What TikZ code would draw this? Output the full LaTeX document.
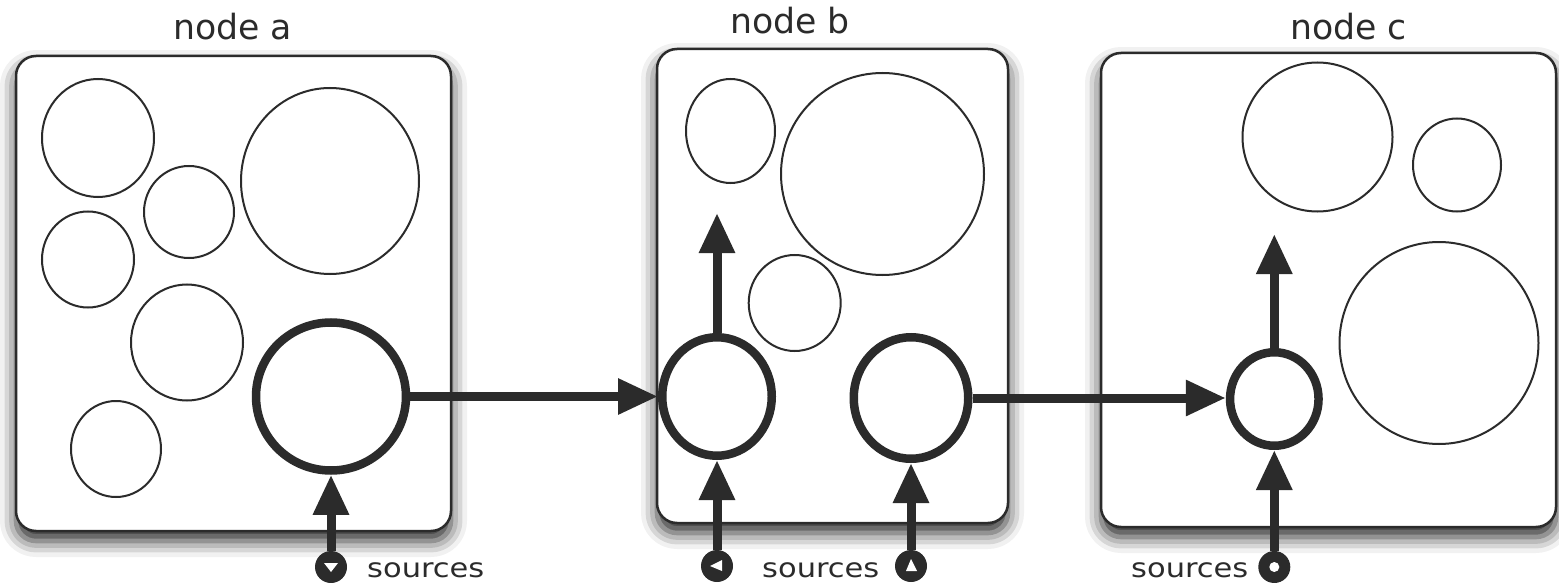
\documentclass[tikz,border=0pt]{standalone}
\usepackage{fontspec}
\setmainfont{DejaVu Sans}
\usetikzlibrary{arrows.meta,shapes.geometric,shadows.blur}
\definecolor{ink}{HTML}{2B2B2B}
\tikzset{
  host/.style={draw=ink, line width=2.5pt, fill=white, rounded corners=20pt, inner sep=0pt,
    blur shadow={shadow xshift=0pt, shadow yshift=-10pt, shadow blur radius=16pt, shadow opacity=85}},
  proc/.style={ellipse, draw=ink, line width=2pt, inner sep=0pt},
  port/.style={ellipse, draw=ink, line width=8.5pt, inner sep=0pt},
  flow/.style={draw=ink, line width=9pt, -{Triangle[length=40pt,width=34pt]}},
  source/.style={circle, fill=ink, minimum size=32pt, inner sep=0pt},
  title/.style={font=\fontsize{34.7}{40}\selectfont, text=ink, inner sep=0pt, anchor=base},
  srclabel/.style={font=\fontsize{26.5}{30}\selectfont, text=ink, inner sep=0pt, anchor=base west, xscale=1.15},
}
\begin{document}
\begin{tikzpicture}[x=1pt,y=-1pt]
\useasboundingbox (0,0) rectangle (1559,583);

% host boxes
\node[host, minimum width=435pt, minimum height=475pt] (boxA) at (233.5,293.5) {};
\node[host, minimum width=351pt, minimum height=474pt] (boxB) at (832.5,286) {};
\node[host, minimum width=455pt, minimum height=474pt] (boxC) at (1328.5,290) {};

% titles
\node[title] (tA) at (232.5,40) {node a};
\node[title] (tB) at (790,34) {node b};
\node[title] (tC) at (1348.5,40) {node c};

% processes in node a
\node[proc, minimum width=112pt, minimum height=118pt] (a1) at (98,138) {};
\node[proc, minimum width=90pt,  minimum height=92pt]  (a2) at (189,212) {};
\node[proc, minimum width=178pt, minimum height=186pt] (a3) at (330,181) {};
\node[proc, minimum width=92pt,  minimum height=96pt]  (a4) at (88,259.5) {};
\node[proc, minimum width=112pt, minimum height=116pt] (a5) at (187,342.5) {};
\node[proc, minimum width=90pt,  minimum height=96pt]  (a6) at (116,449) {};
\node[port, minimum width=150pt, minimum height=148pt] (pA) at (331,396.5) {};

% processes in node b
\node[proc, minimum width=89pt,  minimum height=104pt] (b1) at (730.5,131) {};
\node[proc, minimum width=203pt, minimum height=202pt] (b2) at (882.5,174) {};
\node[proc, minimum width=92pt,  minimum height=96pt]  (b3) at (794.7,303) {};
\node[port, minimum width=109.5pt, minimum height=118.5pt] (pBL) at (717,396.5) {};
\node[port, minimum width=114.5pt, minimum height=121.5pt] (pBR) at (911,398) {};

% processes in node c
\node[proc, minimum width=150pt, minimum height=149pt] (c1) at (1317.5,137) {};
\node[proc, minimum width=88pt,  minimum height=93pt]  (c2) at (1457,165) {};
\node[proc, minimum width=199pt, minimum height=202pt] (c3) at (1439,343) {};
\node[port, minimum width=88.5pt, minimum height=93.5pt] (pC) at (1274.3,399) {};

% free ends of the outgoing links
\coordinate (tipB) at (717,213);
\coordinate (tipC) at (1274.3,234);

% sources
\node[source] (sA)  at (331,567) {};
\node[source] (sBL) at (717,566) {};
\node[source] (sBR) at (911,566) {};
\node[source] (sC)  at (1274.3,567) {};
\fill[white, shift={(sA.center)}]  (-7,-4) -- (7,-4) -- (0,5) -- cycle;
\fill[white, shift={(sBL.center)}] (-7,0) -- (5,-6) -- (5,5) -- cycle;
\fill[white, shift={(sBR.center)}] (-5,5) -- (6,5) -- (0,-7) -- cycle;
\fill[white] (sC.center) circle (5);

% links between processes
\draw[flow] (pA.east) -- (pBL.west);
\draw[flow] (pBR.east) -- (pBR.east -| pC.west);
\draw[flow] (pBL.north) -- (tipB);
\draw[flow] (pC.north) -- (tipC);
\draw[flow] (sA) -- (pA.south);
\draw[flow] (sBL) -- (pBL.south);
\draw[flow] (sBR) -- (pBR.south);
\draw[flow] (sC) -- (pC.south);

% source labels
\node[srclabel] (lA) at (367,577) {sources};
\node[srclabel] (lB) at (762,577) {sources};
\node[srclabel] (lC) at (1131,577) {sources};
\end{tikzpicture}
\end{document}
